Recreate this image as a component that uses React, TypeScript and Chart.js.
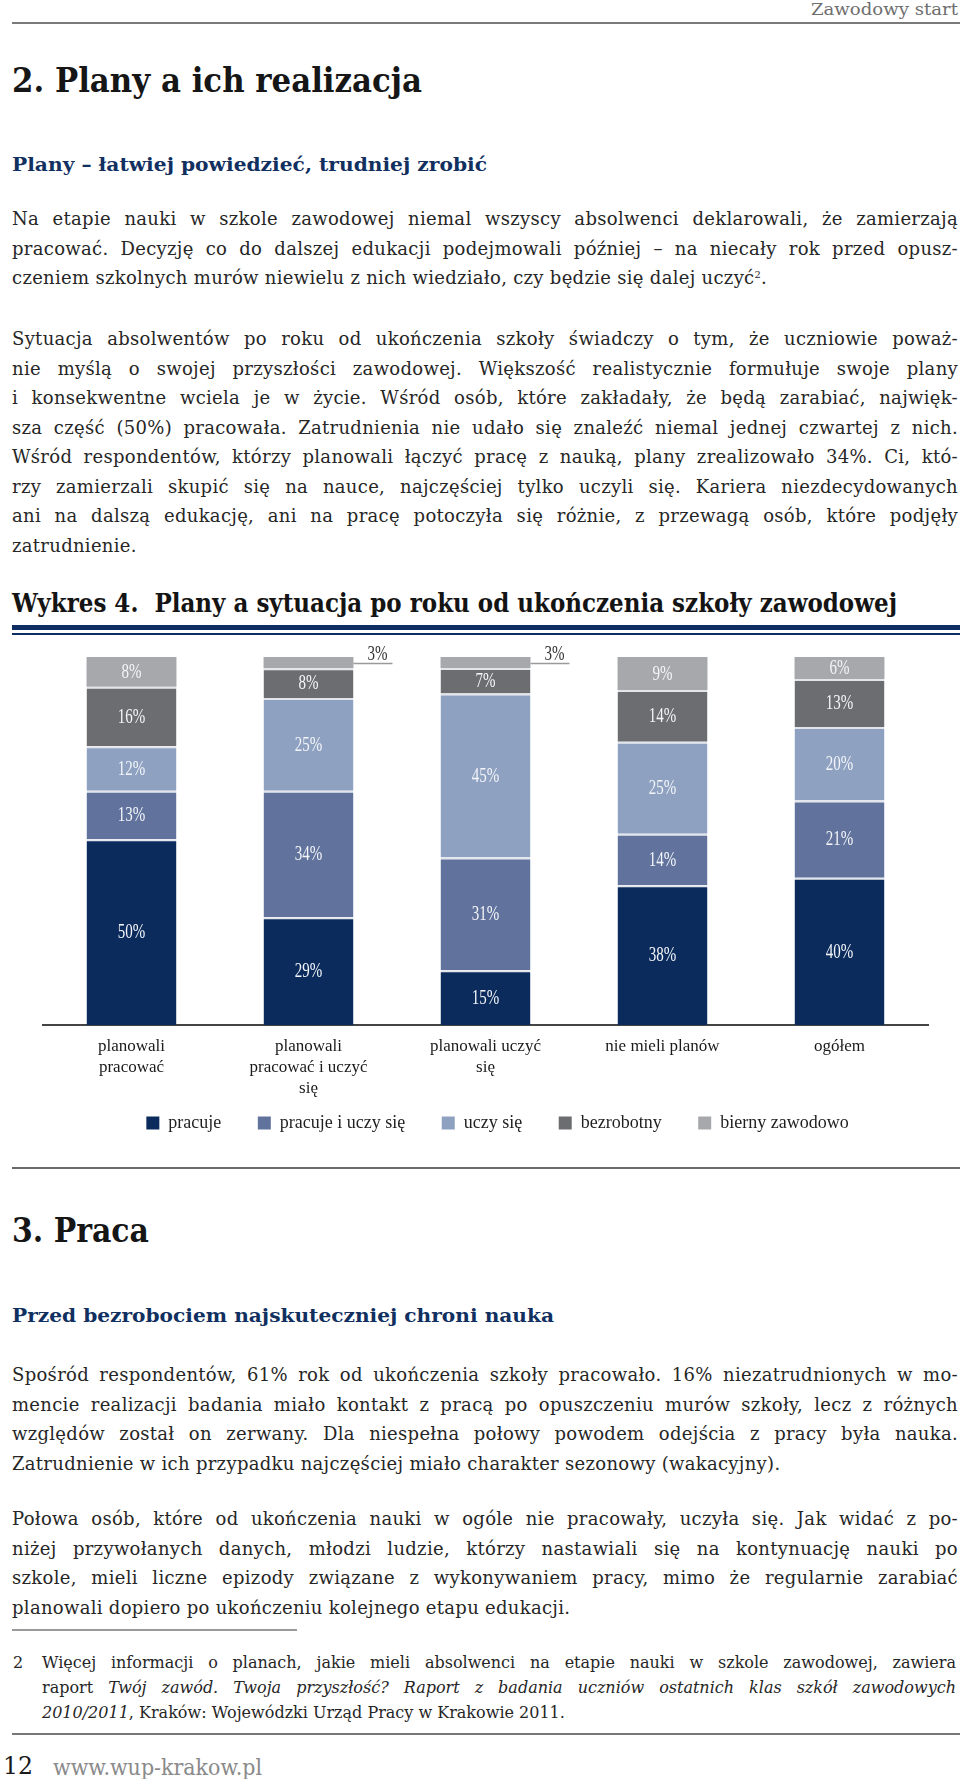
import React, { useEffect, useLayoutEffect, useRef } from 'react';
import { Chart, registerables } from 'chart.js';

Chart.register(...registerables);

// ---------------- chart data ----------------
const categories: (string | string[])[] = [
  ['planowali', 'pracować'],
  ['planowali', 'pracować i uczyć', 'się'],
  ['planowali uczyć', 'się'],
  'nie mieli planów',
  'ogółem',
];
const seriesNames = ['pracuje', 'pracuje i uczy się', 'uczy się', 'bezrobotny', 'bierny zawodowo'];
const pracuje = [50, 29, 15, 38, 40];
const pracujeIUczySie = [13, 34, 31, 14, 21];
const uczySie = [12, 25, 45, 25, 20];
const bezrobotny = [16, 8, 7, 14, 13];
const biernyZawodowo = [8, 3, 3, 9, 6];
const seriesValues = [pracuje, pracujeIUczySie, uczySie, bezrobotny, biernyZawodowo];
const seriesColors = ['#0b2b5d', '#61739c', '#8fa1c1', '#6c6d70', '#a7a8ab'];

// ---------------- page text ----------------
const P1 = [
  'Na etapie nauki w szkole zawodowej niemal wszyscy absolwenci deklarowali, że zamierzają',
  'pracować. Decyzję co do dalszej edukacji podejmowali później – na niecały rok przed opusz-',
];
const P2 = [
  'Sytuacja absolwentów po roku od ukończenia szkoły świadczy o tym, że uczniowie poważ-',
  'nie myślą o swojej przyszłości zawodowej. Większość realistycznie formułuje swoje plany',
  'i konsekwentne wciela je w życie. Wśród osób, które zakładały, że będą zarabiać, najwięk-',
  'sza część (50%) pracowała. Zatrudnienia nie udało się znaleźć niemal jednej czwartej z nich.',
  'Wśród respondentów, którzy planowali łączyć pracę z nauką, plany zrealizowało 34%. Ci, któ-',
  'rzy zamierzali skupić się na nauce, najczęściej tylko uczyli się. Kariera niezdecydowanych',
  'ani na dalszą edukację, ani na pracę potoczyła się różnie, z przewagą osób, które podjęły',
  'zatrudnienie.',
];
const P3 = [
  'Spośród respondentów, 61% rok od ukończenia szkoły pracowało. 16% niezatrudnionych w mo-',
  'mencie realizacji badania miało kontakt z pracą po opuszczeniu murów szkoły, lecz z różnych',
  'względów został on zerwany. Dla niespełna połowy powodem odejścia z pracy była nauka.',
  'Zatrudnienie w ich przypadku najczęściej miało charakter sezonowy (wakacyjny).',
];
const P4 = [
  'Połowa osób, które od ukończenia nauki w ogóle nie pracowały, uczyła się. Jak widać z po-',
  'niżej przywołanych danych, młodzi ludzie, którzy nastawiali się na kontynuację nauki po',
  'szkole, mieli liczne epizody związane z wykonywaniem pracy, mimo że regularnie zarabiać',
  'planowali dopiero po ukończeniu kolejnego etapu edukacji.',
];

type Mode = 'left' | 'justify' | 'fit';

function TL(props: {
  x: number; w: number; baseline: number; size: number; mode?: Mode;
  color?: string; bold?: boolean; children: React.ReactNode; style?: React.CSSProperties;
}) {
  const { x, w, baseline, size, mode = 'left', color = '#262626', bold, children, style } = props;
  const ref = useRef<HTMLSpanElement>(null);
  useLayoutEffect(() => {
    const el = ref.current;
    if (!el) return;
    el.style.transform = 'none';
    el.style.wordSpacing = '0px';
    const nat = el.getBoundingClientRect().width;
    if (mode === 'fit' || nat > w) {
      el.style.transform = `scaleX(${w / nat})`;
    } else if (mode === 'justify') {
      const n = ((el.textContent || '').match(/ /g) || []).length;
      if (n) el.style.wordSpacing = `${(w - nat) / n}px`;
    }
  }, [w, mode]);
  const lh = Math.round(size * 1.5);
  const top = baseline - lh / 2 - 0.346 * size;
  return (
    <div style={{ position: 'absolute', left: x, top, width: w, height: lh, lineHeight: lh + 'px', fontSize: size, whiteSpace: 'pre', color, fontWeight: bold ? 700 : 400 }}>
      <span ref={ref} style={{ display: 'inline-block', transformOrigin: '0 50%', ...style }}>{children}</span>
    </div>
  );
}

function Rule({ x, y, w, h, color }: { x: number; y: number; w: number; h: number; color: string }) {
  return <div style={{ position: 'absolute', left: x, top: y, width: w, height: h, background: color }} />;
}

function drawLabel(ctx: CanvasRenderingContext2D, text: string, x: number, y: number) {
  ctx.save();
  ctx.translate(x, y);
  ctx.scale(0.75, 1);
  ctx.fillText(text, 0, 0);
  ctx.restore();
}

const segmentLabels = {
  id: 'segmentLabels',
  afterDatasetsDraw(chart: any) {
    const ctx: CanvasRenderingContext2D = chart.ctx;
    ctx.save();
    ctx.font = '20px "Liberation Serif"';
    ctx.textAlign = 'center';
    ctx.textBaseline = 'middle';
    chart.data.datasets.forEach((_ds: any, i: number) => {
      const meta = chart.getDatasetMeta(i);
      meta.data.forEach((el: any, j: number) => {
        const v = seriesValues[i][j];
        const { x, y, base, width } = el.getProps(['x', 'y', 'base', 'width'], true);
        const yc = (y + base) / 2;
        const label = v + '%';
        if (v >= 5) {
          ctx.fillStyle = '#f3f5f9';
          drawLabel(ctx, label, x, yc + 1);
        } else {
          const x0 = x + width / 2;
          const ly = yc + 1;
          ctx.strokeStyle = '#9a9a9a';
          ctx.lineWidth = 1.5;
          ctx.beginPath();
          ctx.moveTo(x0, ly);
          ctx.lineTo(x0 + 39, ly);
          ctx.stroke();
          ctx.fillStyle = '#333333';
          drawLabel(ctx, label, x0 + 24, ly - 9);
        }
      });
    });
    ctx.restore();
  },
};

function StackedChart() {
  const ref = useRef<HTMLCanvasElement>(null);
  useEffect(() => {
    if (!ref.current) return;
    const totals = categories.map((_, j) => seriesValues.reduce((s, arr) => s + arr[j], 0));
    const chart = new Chart(ref.current, {
      type: 'bar',
      data: {
        labels: categories,
        datasets: seriesNames.map((name, i) => ({
          label: name,
          data: seriesValues[i].map((v, j) => (v / totals[j]) * 100),
          backgroundColor: seriesColors[i],
          borderColor: '#e2e5ec',
          borderWidth: i === seriesNames.length - 1 ? 0 : { top: 2, right: 0, bottom: 0, left: 0 },
          borderSkipped: 'start',
          barPercentage: 0.508,
          categoryPercentage: 1,
          yAxisID: 'y',
        })),
      },
      options: {
        responsive: false,
        animation: false,
        events: [],
        layout: { padding: { left: 31, right: 8, top: 17, bottom: 0 } },
        plugins: {
          tooltip: { enabled: false },
          legend: {
            position: 'bottom',
            labels: {
              boxWidth: 13,
              boxHeight: 13,
              padding: 14,
              color: '#1f1f1f',
              font: { family: 'Liberation Serif', size: 18 },
              generateLabels: (c: any) => {
                const items = (Chart.defaults.plugins.legend.labels as any).generateLabels(c);
                return items.map((it: any, k: number) => ({
                  ...it,
                  text: k < items.length - 1 ? it.text + '     ' : it.text,
                  lineWidth: 0,
                  strokeStyle: 'rgba(0,0,0,0)',
                }));
              },
            },
          },
        },
        scales: {
          x: {
            stacked: true,
            grid: { display: false, drawTicks: false },
            border: { display: true, color: '#444444', width: 2 },
            ticks: {
              color: '#1a1a1a',
              font: { family: 'Liberation Serif', size: 17, lineHeight: 1.235 },
              padding: 11.5,
              maxRotation: 0,
              autoSkip: false,
            },
            afterFit: (s: any) => { s.height = 75; },
          },
          y: { stacked: true, display: false, min: 0, max: 100 },
          yR: {
            type: 'linear',
            axis: 'y',
            position: 'right',
            display: true,
            grid: { display: false, drawTicks: false },
            border: { display: false },
            ticks: { display: false },
            afterFit: (s: any) => { s.width = 24; },
          },
        },
      } as any,
      plugins: [segmentLabels],
    });
    return () => chart.destroy();
  }, []);
  return (
    <canvas ref={ref} width={948} height={502}
      style={{ position: 'absolute', left: 12, top: 640, width: 948, height: 502 }} />
  );
}

export default function App() {
  const BODY = 18;
  const LH = 29.5;
  const W = 946;
  const bodyStyle: React.CSSProperties = { letterSpacing: '0.3px' };
  return (
    <div style={{ position: 'relative', width: 960, height: 1779, overflow: 'hidden', fontFamily: '"DejaVu Serif", serif', background: '#fff' }}>
      <style>{'body{margin:0;}'}</style>

      <TL x={811} w={147} baseline={15} size={17} mode="fit" color="#6e6e6e">Zawodowy start</TL>
      <Rule x={12} y={22} w={948} h={2} color="#7a7a7a" />

      <TL x={12} w={410} baseline={92} size={33} mode="fit" bold color="#161616">2. Plany a ich realizacja</TL>
      <TL x={12} w={475} baseline={171} size={19} mode="fit" bold color="#11305f">Plany – łatwiej powiedzieć, trudniej zrobić</TL>

      {P1.map((t, i) => (
        <TL key={'p1' + i} x={12} w={W} baseline={225 + i * LH} size={BODY} mode="justify" style={bodyStyle}>{t}</TL>
      ))}
      <TL x={12} w={W} baseline={225 + 2 * LH} size={BODY} style={bodyStyle}>
        {'czeniem szkolnych murów niewielu z nich wiedziało, czy będzie się dalej uczyć'}
        <sup style={{ fontSize: '0.55em', verticalAlign: '0.6em', lineHeight: 0 }}>2</sup>
        {'.'}
      </TL>

      {P2.map((t, i) => (
        <TL key={'p2' + i} x={12} w={W} baseline={345 + i * LH} size={BODY} mode={i === P2.length - 1 ? 'left' : 'justify'} style={bodyStyle}>{t}</TL>
      ))}

      <TL x={12} w={885} baseline={612} size={26} mode="fit" bold color="#141414">Wykres 4.  Plany a sytuacja po roku od ukończenia szkoły zawodowej</TL>
      <Rule x={12} y={625} w={948} h={5} color="#0d2d63" />
      <Rule x={12} y={633} w={948} h={2} color="#0d2d63" />

      <StackedChart />

      <Rule x={12} y={1167} w={948} h={2} color="#6a6a6a" />

      <TL x={12} w={137} baseline={1242} size={33} mode="fit" bold color="#161616">3. Praca</TL>
      <TL x={12} w={542} baseline={1322} size={19} mode="fit" bold color="#11305f">Przed bezrobociem najskuteczniej chroni nauka</TL>

      {P3.map((t, i) => (
        <TL key={'p3' + i} x={12} w={W} baseline={1381 + i * LH} size={BODY} mode={i === P3.length - 1 ? 'left' : 'justify'} style={bodyStyle}>{t}</TL>
      ))}
      {P4.map((t, i) => (
        <TL key={'p4' + i} x={12} w={W} baseline={1525 + i * LH} size={BODY} mode={i === P4.length - 1 ? 'left' : 'justify'} style={bodyStyle}>{t}</TL>
      ))}

      <Rule x={12} y={1629} w={285} h={2} color="#9a9a9a" />

      <TL x={13} w={12} baseline={1669} size={16}>2</TL>
      <TL x={42} w={914} baseline={1669} size={16} mode="justify">Więcej informacji o planach, jakie mieli absolwenci na etapie nauki w szkole zawodowej, zawiera</TL>
      <TL x={42} w={914} baseline={1694} size={16} mode="justify">
        {'raport '}
        <i>Twój zawód. Twoja przyszłość? Raport z badania uczniów ostatnich klas szkół zawodowych</i>
      </TL>
      <TL x={42} w={914} baseline={1719} size={16}>
        <i>2010/2011</i>
        {', Kraków: Wojewódzki Urząd Pracy w Krakowie 2011.'}
      </TL>

      <Rule x={12} y={1733} w={948} h={2} color="#777777" />
      <TL x={3} w={30} baseline={1775} size={25} mode="fit" color="#1a1a1a">12</TL>
      <TL x={53} w={209} baseline={1775} size={22} mode="fit" color="#8a8a8a">www.wup-krakow.pl</TL>
    </div>
  );
}
